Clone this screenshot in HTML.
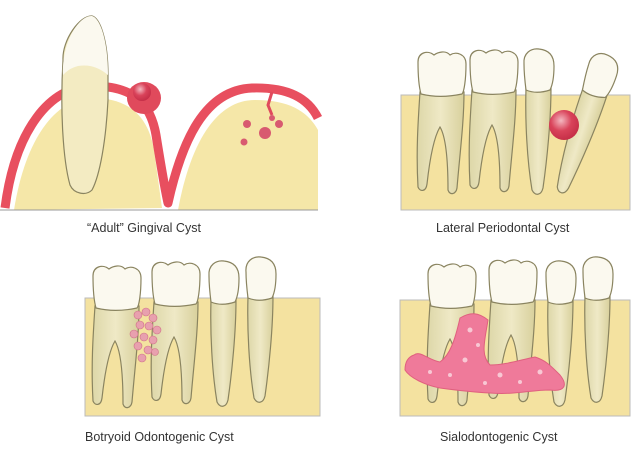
<!DOCTYPE html>
<html><head><meta charset="utf-8"><style>
html,body{margin:0;padding:0;background:#fff;}
svg{display:block}
text{font-family:"Liberation Sans",sans-serif;font-size:12.5px;fill:#333}
</style></head><body>
<svg width="636" height="456" viewBox="0 0 636 456" xmlns="http://www.w3.org/2000/svg">
<defs>
<radialGradient id="cy" cx="0.4" cy="0.35" r="0.7"><stop offset="0" stop-color="#f4b8c0"/><stop offset="0.5" stop-color="#d9435a"/><stop offset="1" stop-color="#c32c45"/></radialGradient>
<linearGradient id="root" x1="0" x2="1"><stop offset="0" stop-color="#ddd7a8"/><stop offset="0.5" stop-color="#efe9c6"/><stop offset="1" stop-color="#d8d09c"/></linearGradient>
<g id="molar">
<path d="M2,40 C0,70 -2,100 0,135 C2,140 8,140 9,132 C12,105 16,85 22,75 C28,85 30,110 30,138 C32,144 38,142 39,136 C42,100 46,70 46,40 Z" fill="url(#root)" stroke="#8a8460" stroke-width="1.2"/>
<path d="M0,10 C0,0 10,-2 16,3 C20,0 28,-2 32,3 C38,-1 48,2 48,12 C48,28 46,40 44,42 C30,45 15,45 3,42 C1,35 0,25 0,10 Z" fill="#fbf9ef" stroke="#8a8460" stroke-width="1.2"/>
</g>
<g id="premolar">
<path d="M3,38 C2,70 4,110 9,140 C12,146 18,146 20,138 C24,110 28,70 28,38 Z" fill="url(#root)" stroke="#8a8460" stroke-width="1.2"/>
<path d="M1,14 C0,3 8,-2 16,-1 C26,0 31,6 31,16 C31,28 29,36 27,40 C18,43 10,43 3,40 C2,32 1,24 1,14 Z" fill="#fbf9ef" stroke="#8a8460" stroke-width="1.2"/>
</g>
</defs>

<!-- Top-left: gingival -->
<path d="M14,210 C25,140 55,98 92,98 C128,98 148,115 154,150 L162,208 Z" fill="#f5e7a8"/>
<path d="M178,210 C190,145 215,100 255,100 C290,100 308,112 318,130 L318,210 Z" fill="#f5e7a8"/>
<path d="M5,208 C15,130 50,86 92,86 C130,86 150,100 156,135 C160,160 164,185 168,203 C182,140 205,90 252,88 C288,87 308,98 318,118" fill="none" stroke="#e84f5f" stroke-width="9" stroke-linejoin="round"/>
<ellipse cx="144" cy="98" rx="17" ry="16" fill="#e04a5c"/>
<circle cx="142" cy="92" r="9" fill="url(#cy)"/>
<path d="M272,92 L268,105 L272,115" fill="none" stroke="#e04a5c" stroke-width="3"/>
<circle cx="247" cy="124" r="4" fill="#d85a70"/><circle cx="265" cy="133" r="6" fill="#d85a70"/>
<circle cx="279" cy="124" r="4" fill="#d85a70"/><circle cx="244" cy="142" r="3.5" fill="#d85a70"/><circle cx="272" cy="118" r="3" fill="#d85a70"/>
<path d="M63,60 C62,40 80,15 92,16 C100,18 108,40 108,75 L108,100 C106,140 100,175 92,190 C86,196 74,194 70,185 C63,160 60,110 63,60 Z" fill="#f3ebc2" stroke="#8a8460" stroke-width="1.2"/>
<path d="M63,75 C62,40 80,15 92,16 C100,18 108,40 108,75 C100,68 90,64 78,66 C70,68 66,72 63,75 Z" fill="#fbf9ef"/>
<line x1="0" y1="210" x2="318" y2="210" stroke="#999" stroke-width="1"/>
<text x="87" y="232">“Adult” Gingival Cyst</text>

<!-- Top-right -->
<rect x="401" y="95" width="229" height="115" fill="#f4e2a0" stroke="#bbb" stroke-width="1"/>
<use href="#molar" x="418" y="52"/>
<use href="#molar" x="470" y="50"/>
<use href="#premolar" x="523" y="50"/>
<g transform="translate(585,55) rotate(18 16 20)"><use href="#premolar"/></g>
<circle cx="564" cy="125" r="15" fill="url(#cy)"/>
<text x="436" y="232">Lateral Periodontal Cyst</text>

<!-- Bottom-left -->
<rect x="85" y="298" width="235" height="118" fill="#f4e2a0" stroke="#bbb" stroke-width="1"/>
<use href="#molar" x="93" y="266"/>
<use href="#molar" x="152" y="262"/>
<use href="#premolar" x="208" y="262"/>
<use href="#premolar" x="245" y="258"/>
<g fill="#e8a0ae" stroke="#d07088" stroke-width="0.6">
<circle cx="138" cy="315" r="4"/><circle cx="146" cy="312" r="4"/><circle cx="153" cy="318" r="4"/><circle cx="140" cy="325" r="4"/><circle cx="149" cy="326" r="4"/><circle cx="157" cy="330" r="4"/><circle cx="134" cy="334" r="4"/><circle cx="144" cy="337" r="4"/><circle cx="153" cy="340" r="4"/><circle cx="138" cy="346" r="4"/><circle cx="148" cy="350" r="4"/><circle cx="142" cy="358" r="4"/><circle cx="155" cy="352" r="3.5"/>
</g>
<text x="85" y="441">Botryoid Odontogenic  Cyst</text>

<!-- Bottom-right -->
<rect x="400" y="300" width="230" height="116" fill="#f4e2a0" stroke="#bbb" stroke-width="1"/>
<use href="#molar" x="428" y="264"/>
<use href="#molar" x="489" y="260"/>
<use href="#premolar" x="545" y="262"/>
<use href="#premolar" x="582" y="258"/>
<path d="M414,355 C420,350 428,360 440,362 C450,355 455,340 460,318 C470,312 478,312 488,320 C485,340 480,355 490,365 C505,365 520,360 535,357 C545,360 550,365 560,375 C568,385 565,392 550,390 C530,390 515,395 490,393 C470,392 455,390 440,388 C425,385 410,378 405,370 C405,362 408,357 414,355 Z" fill="#ef7a9a" stroke="#e0607f" stroke-width="1"/>
<g fill="#f8c8d4"><circle cx="470" cy="330" r="2.5"/><circle cx="478" cy="345" r="2"/><circle cx="465" cy="360" r="2.5"/><circle cx="450" cy="375" r="2"/><circle cx="500" cy="375" r="2.5"/><circle cx="520" cy="382" r="2"/><circle cx="540" cy="372" r="2.5"/><circle cx="430" cy="372" r="2"/><circle cx="485" cy="383" r="2"/></g>
<text x="440" y="441">Sialodontogenic  Cyst</text>
</svg>
</body></html>
